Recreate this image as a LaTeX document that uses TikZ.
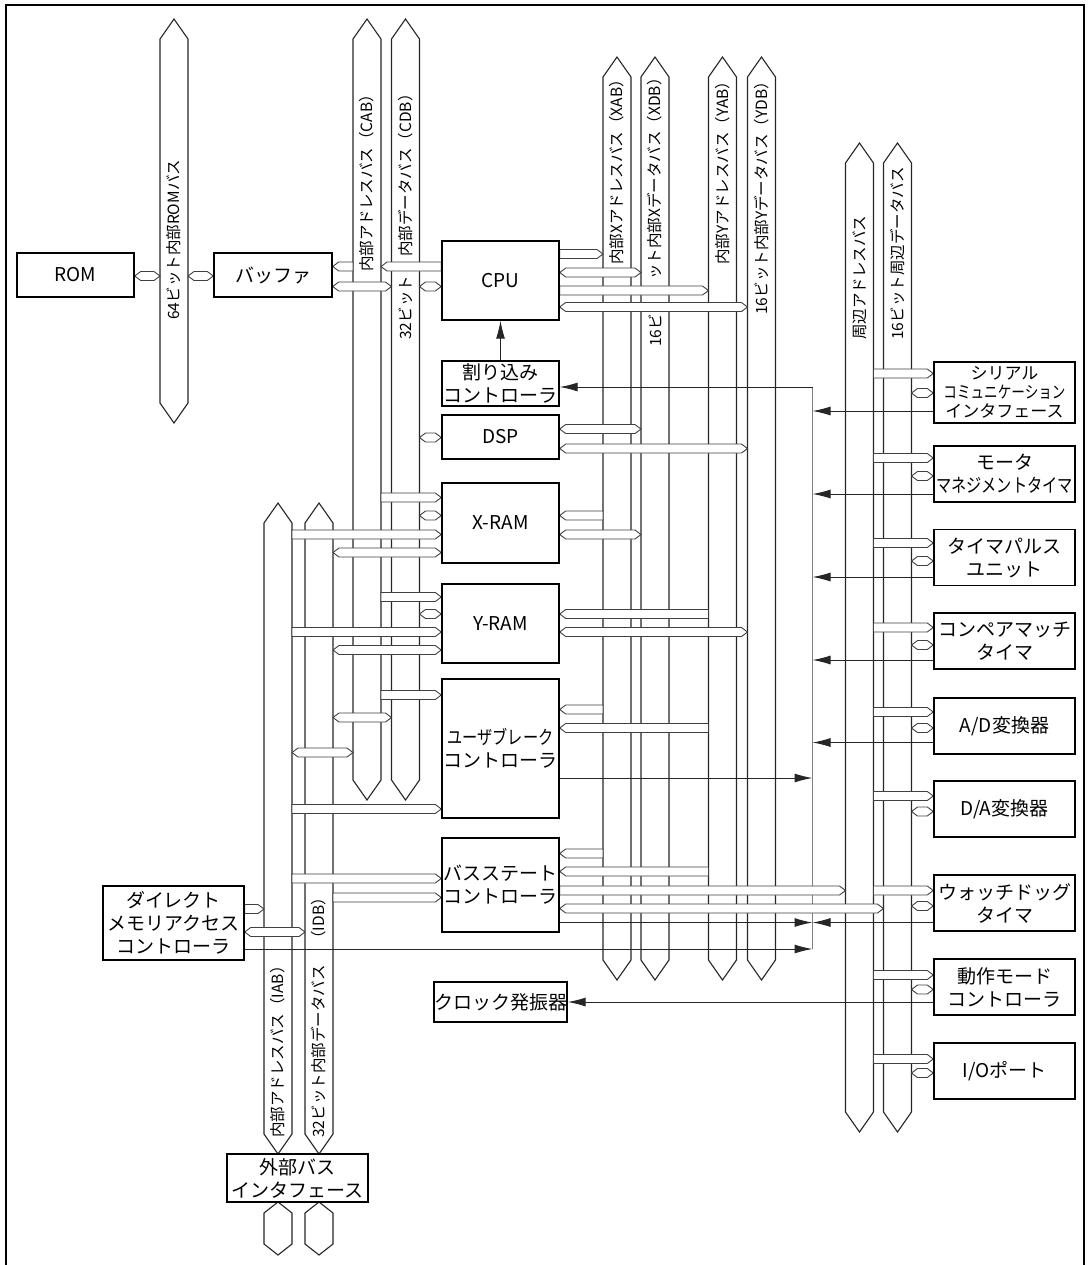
\documentclass[tikz,border=0pt]{standalone}
\usepackage{fontspec}
\setmainfont{Noto Sans CJK JP}
\newfontfamily\narrowjp{Noto Sans CJK JP}[FakeStretch=0.8]
\usetikzlibrary{arrows.meta, calc, positioning, backgrounds}

% 纵向总线: [尖端长] 名称, 中心x, 上端y, 下端y
\newcommand\vbus[5][20]{%
  \draw[busline] (#3-14,#4+#1) -- (#3,#4) -- (#3+14,#4+#1) -- (#3+14,#5-#1) -- (#3,#5) -- (#3-14,#5-#1) -- cycle;
  \coordinate (#2-w) at (#3-14,#4);
  \coordinate (#2-e) at (#3+14,#4);
}
% 横向带状连线 (R: 右端尖, L: 左端尖, B: 两端尖)
\newcommand\bandR[2]{%
  \path (#1) coordinate (bl) (#2) coordinate (br);
  \draw[band] ($(bl)+(0,-4.5)$) -- ($(br)+(-6,-4.5)$) -- (br) -- ($(br)+(-6,4.5)$) -- ($(bl)+(0,4.5)$) -- cycle;
}
\newcommand\bandL[2]{%
  \path (#1) coordinate (bl) (#2) coordinate (br);
  \draw[band] (bl) -- ($(bl)+(6,-4.5)$) -- ($(br)+(0,-4.5)$) -- ($(br)+(0,4.5)$) -- ($(bl)+(6,4.5)$) -- cycle;
}
\newcommand\bandB[2]{%
  \path (#1) coordinate (bl) (#2) coordinate (br);
  \draw[band] (bl) -- ($(bl)+(6,-4.5)$) -- ($(br)+(-6,-4.5)$) -- (br) -- ($(br)+(-6,4.5)$) -- ($(bl)+(6,4.5)$) -- cycle;
}

\begin{document}
\begin{tikzpicture}[
        % 定义样式
        x=0.5pt, y=-0.5pt,
        >={Latex[length=9pt,width=4.5pt]},
        box/.style={draw, line width=0.7pt, fill=white, align=center, inner sep=0pt,
            font=\fontsize{9.5}{11.5}\selectfont},
        cbox/.style={box, minimum width=58.5pt},
        pbox/.style={box, minimum width=70.5pt, minimum height=28pt},
        busline/.style={draw=black!85, line width=0.55pt, fill=white},
        band/.style={draw=black!75, line width=0.45pt, fill=white},
        buslabel/.style={rotate=90, anchor=west, inner sep=0pt,
            font=\fontsize{7.75}{8.5}\selectfont},
        sig/.style={->, draw=black!85, line width=0.5pt},
        trunk/.style={draw=black!50, line width=0.6pt}
    ]
    \useasboundingbox (0,0) rectangle (1090,1265);

    % 1. 各模块
    \node[box, minimum width=58.5pt, minimum height=22pt] (rom) at (75.5,275) {ROM};
    \node[box, minimum width=59pt, minimum height=22pt] (buf) at (273,275) {バッファ};
    \node[cbox, minimum height=39.5pt] (cpu) at (500.5,280.5) {CPU};
    \node[cbox, minimum height=22.5pt] (intc) at (500.5,383.5) {割り込み\\コントローラ};
    \node[cbox, minimum height=22pt] (dsp) at (500.5,437) {DSP};
    \node[cbox, minimum height=40pt] (xram) at (500.5,523) {X-RAM};
    \node[cbox, minimum height=39.5pt] (yram) at (500.5,623.5) {Y-RAM};
    \node[cbox, minimum height=69.5pt] (ubc) at (500.5,748.5) {{\narrowjp ユーザブレーク}\\コントローラ};
    \node[cbox, minimum height=47pt] (bsc) at (500.5,885) {バスステート\\コントローラ};
    \node[cbox, minimum height=20pt] (clk) at (500.5,1002) {クロック発振器};
    \node[box, minimum width=70.5pt, minimum height=37pt] (dmac) at (173.5,923) {ダイレクト\\メモリアクセス\\コントローラ};
    \node[box, minimum width=70.5pt, minimum height=24pt] (ext) at (297.5,1178) {外部バス\\インタフェース};

    % 周边模块
    \node[pbox, minimum height=30.5pt, font=\fontsize{8.5}{9.5}\selectfont] (sci) at (1004.5,392.5)
        {シリアル\\{\narrowjp コミュニケーション}\\インタフェース};
    \node[pbox] (mtu) at (1004.5,474) {モータ\\{\narrowjp マネジメントタイマ}};
    \node[pbox] (tpu) at (1004.5,557.5) {タイマパルス\\ユニット};
    \node[pbox] (cmt) at (1004.5,641) {コンペアマッチ\\タイマ};
    \node[pbox] (adc) at (1004.5,726) {A/D変換器};
    \node[pbox] (dac) at (1004.5,809) {D/A変換器};
    \node[pbox] (wdt) at (1004.5,903) {ウォッチドッグ\\タイマ};
    \node[pbox] (mdc) at (1004.5,987) {動作モード\\コントローラ};
    \node[pbox] (iop) at (1004.5,1071) {I/Oポート};

    \begin{pgfonlayer}{background}
    % 2. 外框与总线
    \draw[line width=1pt] (6,1265) -- (6,4.5) -- (1083.5,4.5) -- (1083.5,1265);

    \vbus{rombus}{174}{19}{423}
    \vbus{cab}{367}{19}{800}
    \vbus{cdb}{405.5}{19}{800}
    \vbus{xab}{617}{57}{980}
    \vbus{xdb}{655}{57}{980}
    \vbus{yab}{722.5}{57}{980}
    \vbus{ydb}{761.5}{57}{980}
    \vbus{pab}{859.5}{143}{1132}
    \vbus{pdb}{897.5}{143}{1132}
    \vbus{iab}{278}{503}{1154}
    \vbus{idb}{319}{503}{1154}
    \vbus[11]{exa}{278}{1202}{1255}
    \vbus[11]{exd}{319}{1202}{1255}

    % 总线标签
    \node[buslabel] (lrom) at (174,320) {64ビット内部ROMバス};
    \node[buslabel] (lcab) at (367,272) {内部アドレスバス（CAB）};
    \node[buslabel] (lcdb) at (405.5,257) {内部データバス（CDB）};
    \node[buslabel] (lcdb2) at (405.5,340) {32ビット};
    \node[buslabel] (lxab) at (617,265) {内部Xアドレスバス（XAB）};
    \node[buslabel] (lxdb) at (655,280) {ット内部Xデータバス（XDB）};
    \node[buslabel] (lxdb2) at (655,347) {16ビ};
    \node[buslabel] (lyab) at (722.5,265) {内部Yアドレスバス（YAB）};
    \node[buslabel] (lydb) at (761.5,315) {16ビット内部Yデータバス（YDB）};
    \node[buslabel] (lpab) at (859.5,340) {周辺アドレスバス};
    \node[buslabel] (lpdb) at (897.5,340) {16ビット周辺データバス};
    \node[buslabel] (liab) at (278,1138) {内部アドレスバス（IAB）};
    \node[buslabel] (lidb) at (319,947) {（IDB）};
    \node[buslabel] (lidb2) at (319,1138) {32ビット内部データバス};

    % 3. 割り込み信号
    \coordinate (irqtop) at (812.5,387);
    \coordinate (irqbot) at (812.5,949);
    \draw[trunk] (irqtop) -- (irqbot);
    \draw[sig] (irqtop) -- (intc.east |- irqtop);
    \draw[sig] (intc.north) -- (cpu.south);
    \foreach \p/\y in {sci/411, mtu/494, tpu/577, cmt/660, adc/742.5, wdt/922.5}
        \draw[sig] (\p.west |- 0,\y) -- (irqtop |- 0,\y);
    \draw[sig] (ubc.east |- 0,778) -- (irqtop |- 0,778);
    \draw[sig] (bsc.east |- 0,922.5) -- (irqtop |- 0,922.5);
    \draw[sig] (dmac.east |- irqbot) -- (irqbot);
    \draw[sig] (mdc.west |- 0,1002) -- (clk.east |- 0,1002);

    % 4. 总线连接
    % ROM, バッファ
    \bandB{rom.east |- 0,276}{rombus-w |- 0,276}
    \bandB{rombus-e |- 0,276}{buf.west |- 0,276}
    \bandL{buf.east |- 0,266.5}{cab-w |- 0,266.5}
    \bandB{buf.east |- 0,286.5}{cdb-w |- 0,286.5}
    % CPU
    \bandL{cab-e |- 0,266.5}{cpu.west |- 0,266.5}
    \bandB{cdb-e |- 0,286.5}{cpu.west |- 0,286.5}
    \bandR{cpu.east |- 0,254}{xab-w |- 0,254}
    \bandB{cpu.east |- 0,272.5}{xdb-w |- 0,272.5}
    \bandR{cpu.east |- 0,290.5}{yab-w |- 0,290.5}
    \bandB{cpu.east |- 0,307}{ydb-w |- 0,307}
    % DSP
    \bandB{cdb-e |- 0,437.5}{dsp.west |- 0,437.5}
    \bandB{dsp.east |- 0,429}{xdb-w |- 0,429}
    \bandB{dsp.east |- 0,448.5}{ydb-w |- 0,448.5}
    % X-RAM
    \bandR{cab-e |- 0,497.5}{xram.west |- 0,497.5}
    \bandB{cdb-e |- 0,515.5}{xram.west |- 0,515.5}
    \bandR{iab-e |- 0,534.5}{xram.west |- 0,534.5}
    \bandB{idb-e |- 0,552.5}{xram.west |- 0,552.5}
    \bandL{xram.east |- 0,515.5}{xab-w |- 0,515.5}
    \bandB{xram.east |- 0,534.5}{xdb-w |- 0,534.5}
    % Y-RAM
    \bandR{cab-e |- 0,597}{yram.west |- 0,597}
    \bandB{cdb-e |- 0,614}{yram.west |- 0,614}
    \bandR{iab-e |- 0,632}{yram.west |- 0,632}
    \bandB{idb-e |- 0,650}{yram.west |- 0,650}
    \bandL{yram.east |- 0,614}{yab-w |- 0,614}
    \bandB{yram.east |- 0,632}{ydb-w |- 0,632}
    % ユーザブレーク
    \bandR{cab-e |- 0,695}{ubc.west |- 0,695}
    \bandB{idb-e |- 0,717.5}{cdb-w |- 0,717.5}
    \bandB{iab-e |- 0,752.5}{cab-w |- 0,752.5}
    \bandR{iab-e |- 0,809}{ubc.west |- 0,809}
    \bandL{ubc.east |- 0,709.5}{xab-w |- 0,709.5}
    \bandL{ubc.east |- 0,728}{yab-w |- 0,728}
    % バスステート
    \bandR{iab-e |- 0,878.5}{bsc.west |- 0,878.5}
    \bandR{idb-e |- 0,897.5}{bsc.west |- 0,897.5}
    \bandL{bsc.east |- 0,853.5}{xab-w |- 0,853.5}
    \bandL{bsc.east |- 0,871.5}{yab-w |- 0,871.5}
    \bandR{bsc.east |- 0,890.5}{pab-w |- 0,890.5}
    \bandB{bsc.east |- 0,908.5}{pdb-w |- 0,908.5}
    % DMAC
    \bandR{dmac.east |- 0,909}{iab-w |- 0,909}
    \bandB{dmac.east |- 0,932}{idb-w |- 0,932}
    % 周辺
    \foreach \p/\ya/\yd in {sci/373.5/393, mtu/458/476, tpu/543/561, cmt/627.5/645,
            adc/712/728, dac/796/811.5, wdt/890.5/906, mdc/975/989.5, iop/1059/1073}{
        \bandR{pab-e |- 0,\ya}{\p.west |- 0,\ya}
        \bandB{pdb-e |- 0,\yd}{\p.west |- 0,\yd}
    }
    \end{pgfonlayer}

\end{tikzpicture}
\end{document}
